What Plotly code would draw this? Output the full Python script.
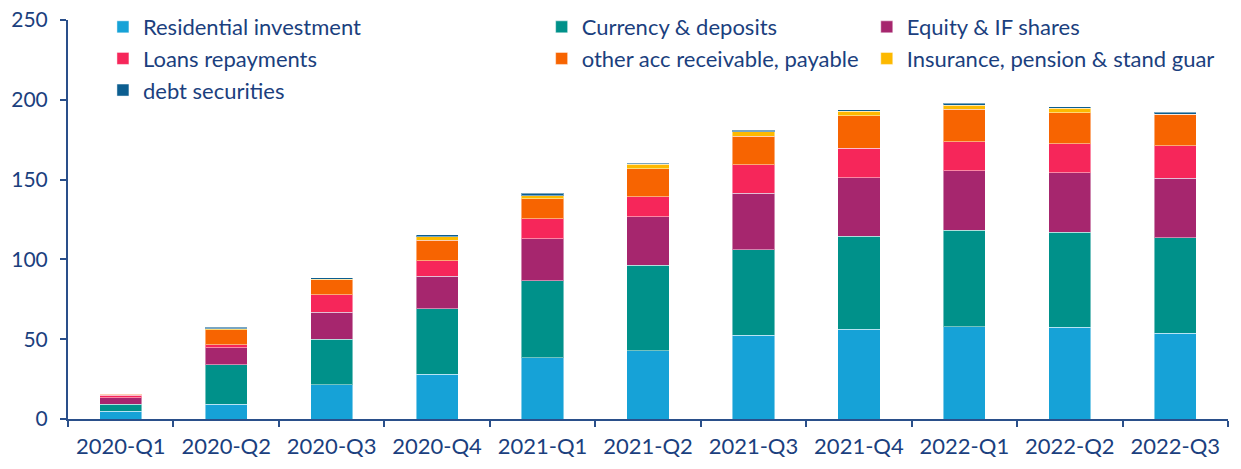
import plotly.graph_objects as go

quarters = ["2020-Q1", "2020-Q2", "2020-Q3", "2020-Q4", "2021-Q1", "2021-Q2",
            "2021-Q3", "2021-Q4", "2022-Q1", "2022-Q2", "2022-Q3"]

residential = [5.0, 9.2, 21.6, 27.9, 38.5, 42.8, 52.4, 56.1, 57.8, 57.4, 53.6]
currency = [4.2, 24.9, 28.3, 41.1, 48.0, 53.4, 53.6, 58.4, 60.5, 59.5, 59.9]
equity = [4.1, 10.4, 17.0, 20.3, 26.5, 30.5, 35.3, 36.8, 37.3, 37.5, 37.2]
loans = [1.7, 2.0, 10.8, 10.0, 12.5, 12.5, 18.1, 18.5, 18.1, 18.1, 20.5]
other_acc = [0.5, 9.4, 9.4, 12.7, 12.5, 17.7, 17.8, 20.2, 20.4, 19.5, 19.6]
insurance = [0.3, 0.6, 0.6, 2.1, 1.8, 2.7, 2.8, 2.9, 2.5, 2.7, 0.2]
debt_sec = [0.1, 0.9, 0.8, 1.2, 1.5, 0.8, 0.8, 0.8, 1.2, 1.1, 1.2]

text_col = "#1B3F7E"
axis_col = "#2A4F8A"

series = [
    ("Residential investment", residential, "#16A2D7", "legend"),
    ("Currency & deposits", currency, "#00918A", "legend2"),
    ("Equity & IF shares", equity, "#A6266E", "legend3"),
    ("Loans repayments", loans, "#F6265A", "legend"),
    ("other acc receivable, payable", other_acc, "#F76401", "legend2"),
    ("Insurance, pension & stand guar", insurance, "#FDB900", "legend3"),
    ("debt securities", debt_sec, "#0C5E90", "legend"),
]

fig = go.Figure()
for name, vals, col, lg in series:
    fig.add_trace(go.Bar(
        x=quarters, y=vals, name=name, legend=lg,
        marker=dict(color=col, line=dict(color="rgba(255,255,255,0.45)", width=1)),
    ))

# three legend columns, margins fixed so they don't push the plot area
leg_common = dict(
    orientation="v", xref="container", yref="paper",
    yanchor="top", y=1.035, xanchor="left",
    bgcolor="rgba(0,0,0,0)", font=dict(size=22, color=text_col, family="Lato"),
    itemwidth=30, traceorder="normal",
)

fig.update_layout(
    barmode="stack",
    bargap=0.6,
    width=1233, height=461,
    margin=dict(l=60, r=13, t=12, b=50, autoexpand=False),
    paper_bgcolor="white", plot_bgcolor="white",
    font=dict(family="Lato", size=22, color=text_col),
    legend=dict(x=0.0770, **leg_common),
    legend2=dict(x=0.4328, **leg_common),
    legend3=dict(x=0.6965, **leg_common),
    xaxis=dict(
        showline=True, linecolor=axis_col, linewidth=2,
        ticks="outside", tickson="boundaries", ticklen=6, tickwidth=2, tickcolor=axis_col,
        tickfont=dict(size=22, color=text_col), ticklabelstandoff=7,
        ticklabeloverflow="allow",
    ),
    yaxis=dict(
        range=[0, 250], dtick=50, showgrid=False, zeroline=False,
        showline=True, linecolor=axis_col, linewidth=2,
        ticks="outside", ticklen=6, tickwidth=2, tickcolor=axis_col,
        tickfont=dict(size=21, color=text_col), ticklabelstandoff=8,
        ticklabeloverflow="allow",
    ),
)

fig.write_html("out.html")
